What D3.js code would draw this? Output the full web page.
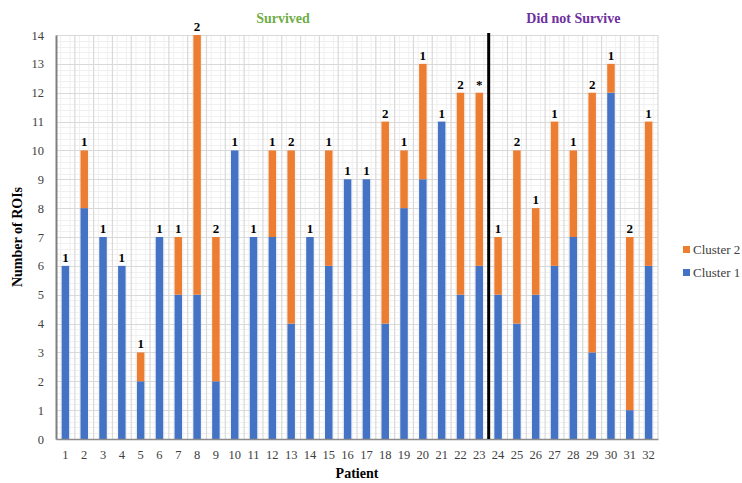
<!DOCTYPE html>
<html><head><meta charset="utf-8">
<script src="https://cdn.jsdelivr.net/npm/d3@7"></script>
<style>body{margin:0;background:#fff}svg{display:block}
.sf{font-family:"Liberation Serif","DejaVu Serif",serif !important;}</style>
</head><body>
<script>
const patients = d3.range(1, 33).map(String);
const cluster1 = [6,8,7,6,2,7,5,5,2,10,7,7,4,7,6,9,9,4,8,9,11,5,6,5,4,5,6,7,3,12,1,6];
const cluster2 = [0,2,0,0,1,0,2,9,5,0,0,3,6,0,4,0,0,7,2,4,0,7,6,2,6,3,5,3,9,1,6,5];
const topLabels = ["1","1","1","1","1","1","1","2","2","1","1","1","2","1","1","1","1","2","1","1","1","2","*","1","2","1","1","1","2","1","2","1"];
const yTicks = d3.range(0, 15);
const seriesNames = ["Cluster 1","Cluster 2"];
const colors = ["#4472C4","#ED7D31"];
const groupTitles = [{text:"Survived", from:"1", to:"23", color:"#70AD47"},{text:"Did not Survive", from:"24", to:"32", color:"#7030A0"}];
const dividerAfter = "23";

const W = 742, H = 483;
const m = {left:56, right:84, top:35, bottom:44};
const svg = d3.select("body").append("svg").attr("width", W).attr("height", H);

const x = d3.scaleBand().domain(patients).range([m.left, W - m.right]).paddingInner(0).paddingOuter(0);
const y = d3.scaleLinear().domain([0, 14]).range([H - m.bottom, m.top]);
const bw = x.bandwidth() * 0.4;

// minor horizontal grid
const g = svg.append("g");
g.selectAll(".hmin").data(d3.range(0, 14.001, 0.2)).join("line")
  .attr("x1", m.left).attr("x2", W - m.right)
  .attr("y1", d => Math.round(y(d)) + 0.5).attr("y2", d => Math.round(y(d)) + 0.5)
  .attr("stroke", "#f0f0f0").attr("stroke-width", 1);
// minor vertical grid
const minorX = [];
patients.forEach(p => { minorX.push(x(p) + x.bandwidth()*0.25); minorX.push(x(p) + x.bandwidth()*0.75); });
g.selectAll(".vmin").data(minorX).join("line")
  .attr("x1", d => d).attr("x2", d => d).attr("y1", y(14)).attr("y2", y(0))
  .attr("stroke", "#f0f0f0").attr("stroke-width", 1);
// major grid
g.selectAll(".hmaj").data(yTicks).join("line")
  .attr("x1", m.left).attr("x2", W - m.right)
  .attr("y1", d => Math.round(y(d)) + 0.5).attr("y2", d => Math.round(y(d)) + 0.5)
  .attr("stroke", "#d9d9d9").attr("stroke-width", 1.2);
g.selectAll(".vmaj").data(patients.slice(1).concat(["end"])).join("line")
  .attr("x1", d => d === "end" ? W - m.right : x(d)).attr("x2", d => d === "end" ? W - m.right : x(d))
  .attr("y1", y(14)).attr("y2", y(0))
  .attr("stroke", "#d9d9d9").attr("stroke-width", 1.2);

// stacked bars
const table = patients.map((p, i) => ({patient: p, "Cluster 1": cluster1[i], "Cluster 2": cluster2[i]}));
const stack = d3.stack().keys(seriesNames)(table);
svg.append("g").selectAll("g").data(stack).join("g")
  .attr("fill", (d, i) => colors[i])
  .selectAll("rect").data(d => d).join("rect")
  .attr("x", d => x(d.data.patient) + (x.bandwidth() - bw) / 2)
  .attr("width", bw)
  .attr("y", d => y(d[1]))
  .attr("height", d => y(d[0]) - y(d[1]));

// axes
const yAxis = svg.append("g").attr("transform", `translate(${m.left},0)`)
  .call(d3.axisLeft(y).tickValues(yTicks).tickSize(0).tickPadding(12));
yAxis.attr("font-family", null);
yAxis.select(".domain").attr("stroke", "#7f7f7f").attr("stroke-width", 2);
yAxis.selectAll("text").attr("class", "sf").attr("font-size", 12.5).attr("fill", "#404040");

const xAxis = svg.append("g").attr("transform", `translate(0,${y(0)})`)
  .call(d3.axisBottom(x).tickSize(0).tickPadding(11));
xAxis.attr("font-family", null);
xAxis.select(".domain").attr("stroke", "#8c8c8c").attr("stroke-width", 1.5);
xAxis.selectAll("text").attr("class", "sf").attr("font-size", 12.5).attr("fill", "#404040");

// divider
const dx = x(dividerAfter) + x.bandwidth();
svg.append("line").attr("x1", dx).attr("x2", dx).attr("y1", y(14) - 2).attr("y2", y(0))
  .attr("stroke", "#000").attr("stroke-width", 3);

// top labels
svg.append("g").selectAll("text").data(table).join("text")
  .attr("class", "sf")
  .attr("x", d => x(d.patient) + x.bandwidth() / 2)
  .attr("y", (d, i) => y(cluster1[i] + cluster2[i]) - 4)
  .attr("text-anchor", "middle")
  .attr("font-weight", "bold").attr("font-size", 13)
  .attr("fill", "#000")
  .text((d, i) => topLabels[i]);

// group titles
svg.append("g").selectAll("text").data(groupTitles).join("text")
  .attr("class", "sf")
  .attr("x", d => d.text === "Survived" ? 283 : (x(d.from) + x(d.to) + x.bandwidth()) / 2)
  .attr("y", 23)
  .attr("text-anchor", "middle")
  .attr("font-weight", "bold").attr("font-size", 14)
  .attr("fill", d => d.color)
  .text(d => d.text);

// axis titles
svg.append("text").attr("class", "sf").attr("x", (m.left + W - m.right) / 2).attr("y", 478)
  .attr("text-anchor", "middle").attr("font-weight", "bold")
  .attr("font-size", 14).attr("fill", "#000").text("Patient");
svg.append("text").attr("class", "sf").attr("transform", `translate(22,${(y(0) + y(14)) / 2}) rotate(-90)`)
  .attr("text-anchor", "middle").attr("font-weight", "bold")
  .attr("font-size", 14).attr("fill", "#000").text("Number of ROIs");

// legend
const legendItems = [{name:"Cluster 2", color:colors[1]}, {name:"Cluster 1", color:colors[0]}];
const lg = svg.append("g").selectAll("g").data(legendItems).join("g")
  .attr("transform", (d, i) => `translate(683,${250 + i * 23})`);
lg.append("rect").attr("x", 0).attr("y", -4).attr("width", 7).attr("height", 7).attr("fill", d => d.color);
lg.append("text").attr("class", "sf").attr("x", 10).attr("y", 4).attr("font-size", 13)
  .attr("fill", "#404040").text(d => d.name);
</script>
</body></html>
